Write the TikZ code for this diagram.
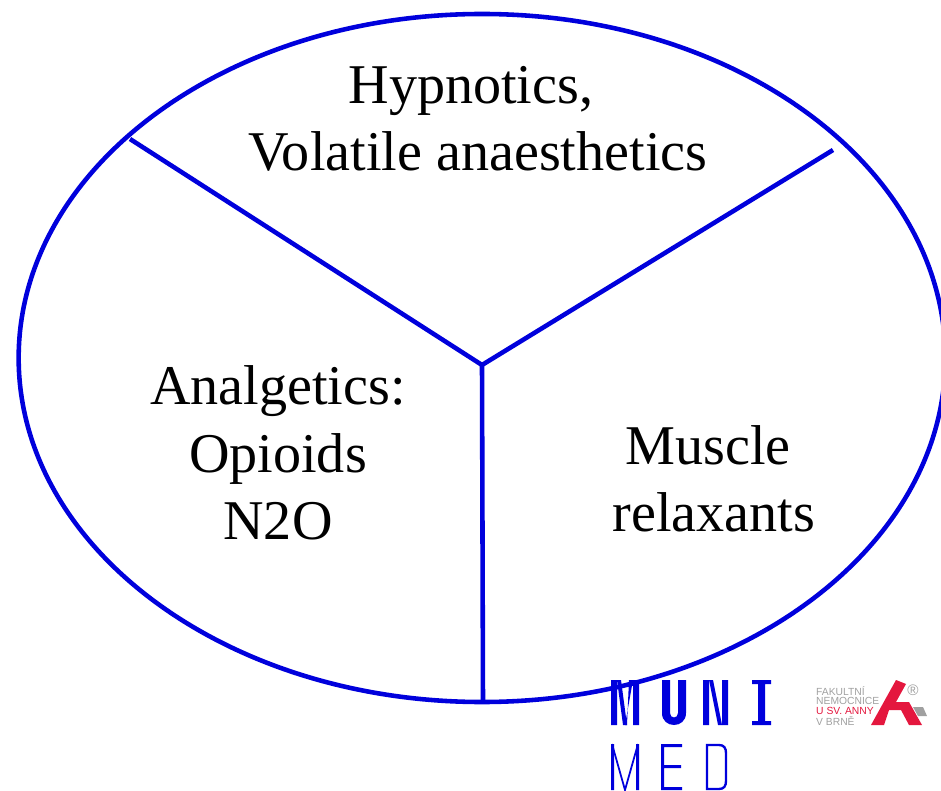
\documentclass[tikz,border=0pt]{standalone}
\usepackage{fontspec}
\setmainfont{Liberation Serif}
\setsansfont{Liberation Sans}
\usetikzlibrary{shapes.geometric}
\definecolor{muni}{HTML}{0000DC}
\definecolor{annared}{HTML}{E4173E}
\definecolor{annagrey}{HTML}{A0A0A0}
\tikzset{
  label/.style={font=\fontsize{47.9}{57.6}\selectfont,align=center,text=black},
  spoke/.style={muni,line width=3.9pt},
  small/.style={font=\sffamily\fontsize{8.8}{8.8}\selectfont,text=annagrey,anchor=west,inner sep=0pt},
}
\begin{document}
\begin{tikzpicture}[x=0.03cm,y=-0.03cm]
  \useasboundingbox (0,0) rectangle (941,791);

  % Outer ring and the three sectors
  \node[ellipse,draw=muni,line width=3.9pt,minimum width=27.8cm,minimum height=20.64cm,inner sep=0pt] (ring) at (482,358) {};
  \coordinate (hub) at (482,365);
  \coordinate (upleft) at (130,139);
  \coordinate (upright) at (833,150);
  \coordinate (down) at (483,702);
  \draw[spoke] (hub) -- (upleft);
  \draw[spoke] (hub) -- (upright);
  \draw[spoke] (hub) -- (down);

  % Sector labels
  \node[label] (hypno) at (478,119) {Hypnotics,\hspace*{0.42cm}\\Volatile anaesthetics};
  \node[label] (analg) at (278,453) {Analgetics:\\Opioids\\N2O};
  \node[label] (muscle) at (714,479) {Muscle\hspace*{0.36cm}\\relaxants};

  % MUNI logo
  \fill[muni] (611,680) rectangle (617,725) (633,680) rectangle (639,725);
  \fill[muni] (617,680) -- (621,680) -- (627,725) -- (623,725) -- cycle;
  \fill[muni] (633,680) -- (629,680) -- (627,725) -- (625,725) -- cycle;
  \fill[muni] (662,680) -- (662,713) .. controls (662,729) and (686,729) .. (686,713) -- (686,680) -- (678,680) -- (678,713) .. controls (678,719) and (670,719) .. (670,713) -- (670,680) -- cycle;
  \fill[muni] (703,680) rectangle (709,725) (722,680) rectangle (728,725);
  \fill[muni] (709,680) -- (713,680) -- (722,725) -- (718,725) -- cycle;
  \fill[muni] (752,680) rectangle (771,684) (752,721) rectangle (771,725) (758,680) rectangle (765,725);
  \fill[muni] (611,744) rectangle (614,790) (636,744) rectangle (639,790);
  \draw[muni,line width=1.5pt] (612,744) -- (625,790) -- (638,744);
  \fill[muni] (661,744) rectangle (664,790) (661,744) rectangle (682,747) (661,765) rectangle (681,768) (661,787) rectangle (682,790);
  \draw[muni,line width=2pt] (707,745) -- (719,745) .. controls (724,745) and (726,748) .. (726,753) -- (726,781) .. controls (726,786) and (724,789) .. (719,789) -- (707,789) -- cycle;

  % Hospital logo
  \node[small] (fak) at (816,691) {FAKULTNÍ};
  \node[small] (nem) at (816,701) {NEMOCNICE};
  \node[small,text=annared] (usv) at (816,711) {U SV. ANNY};
  \node[small] (brn) at (816,721) {V BRNĚ};
  \node[font=\sffamily\fontsize{13}{13}\selectfont,text=annagrey,inner sep=0pt] (reg) at (913,690) {®};
  \fill[annagrey] (913,707) -- (923,707) -- (927,716) -- (918,716) -- cycle;
  \fill[annared] (871,725) -- (896,680) -- (906,684) -- (896,702) -- (909,702) -- (922,725) -- (909,725) -- (901,710) -- (889,710) -- (884,725) -- cycle;
\end{tikzpicture}
\end{document}
